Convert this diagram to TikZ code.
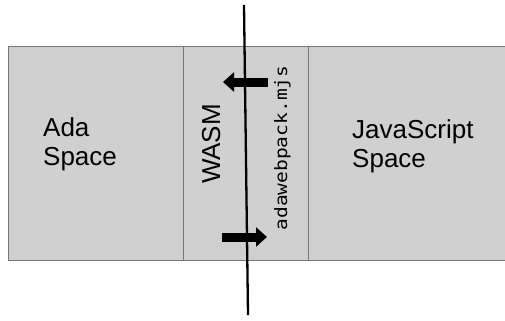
\documentclass[tikz,border=0pt]{standalone}
\usepackage{fontspec}
\setmainfont{Liberation Sans}
\newfontfamily\codefont{DejaVu Sans Mono}
\usetikzlibrary{arrows.meta}
\definecolor{boxfill}{HTML}{D0D0D0}
\definecolor{boxline}{HTML}{787878}
\begin{document}
\begin{tikzpicture}[x=1bp,y=-1bp,
  region/.style={draw=boxline, fill=boxfill, line width=1bp, inner sep=0pt, anchor=north west},
  lbl/.style={font=\fontsize{26bp}{29bp}\selectfont, inner sep=0pt, align=left},
  codelbl/.style={font=\fontsize{17bp}{19bp}\codefont, inner sep=0pt},
  bigarrow/.style={line width=9bp, -{Triangle[length=11bp,width=19bp]}},
  divider/.style={line width=2.3bp, black},
]
\useasboundingbox (0,0) rectangle (505,320);
\fill[white] (0,0) rectangle (505,320);
\node[region, minimum width=175bp, minimum height=214bp] (ada) at (8,46) {};
\node[region, minimum width=125bp, minimum height=214bp] (wasm) at (183,46) {};
\node[region, minimum width=210bp, minimum height=214bp] (js) at (308,46) {};
\node[lbl, anchor=north west] (adat) at (43,117) {Ada\\Space};
\node[lbl, anchor=north west] (jst) at (352,119) {JavaScript\\Space};
\node[lbl, rotate=90, anchor=base] (wasmt) at (220,144) {WASM};
\node[codelbl, rotate=90, xscale=1.15, anchor=base] (code) at (287,148) {adawebpack.mjs};
\coordinate (top) at (244,5);
\coordinate (bot) at (248,315);
\draw[divider] (top) -- (bot);
\coordinate (a1s) at (268,82);
\coordinate (a1e) at (223,82);
\coordinate (a2s) at (222,237);
\coordinate (a2e) at (267,237);
\draw[bigarrow] (a1s) -- (a1e);
\draw[bigarrow] (a2s) -- (a2e);
\end{tikzpicture}
\end{document}
